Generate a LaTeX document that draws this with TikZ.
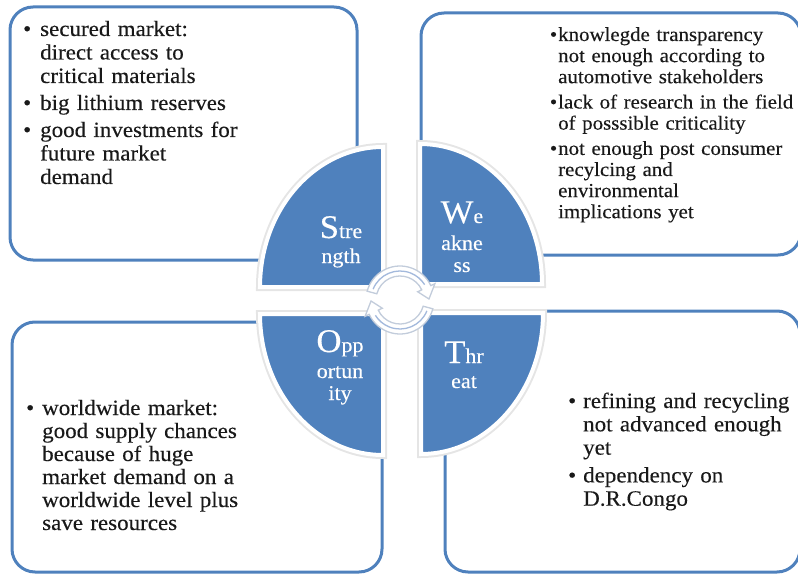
\documentclass[tikz,border=0pt]{standalone}
\usepackage{fontspec}
\setmainfont[FakeStretch=1.05,FakeBold=0.25]{Liberation Serif}
\definecolor{swotblue}{HTML}{4F81BD}
\definecolor{ringedge}{HTML}{C2CCDB}
\definecolor{ringline}{HTML}{A3B9DC}
% bullet hung into the left margin of a list paragraph
\newcommand\bul[1][8pt]{\leavevmode\llap{\textbullet\hskip#1}}
% enlarged initial letter of a quadrant title
\newcommand\swotcap[1]{{\fontsize{33}{33}\selectfont #1}}
\begin{document}
\begin{tikzpicture}[x=1pt,y=-1pt,
  box/.style={draw=swotblue, line width=3pt, rounded corners=23pt},
  halo/.style={draw=black!10, line width=8pt, line join=miter},
  quad/.style={fill=swotblue, draw=white, line width=4pt, line join=miter},
  body/.style={inner sep=0pt, anchor=base west, align=left, text width=#1,
    text=black!90},
  lbl/.style={inner sep=0pt, anchor=base, align=center, text width=90pt,
    text=white, font=\fontsize{21}{22}\selectfont},
  ring/.style={fill=white, draw=ringedge, line width=1.3pt, line join=miter},
  ringmid/.style={draw=ringline, line width=1.3pt}]
\useasboundingbox (0,0) rectangle (798,575);

% text frames
\draw[box] (10,7) rectangle (357,260);
\draw[box] (421,13) rectangle (801,255);
\draw[box] (12,322) rectangle (382,572);
\draw[box] (445,311) rectangle (800,572);

% quadrants of the central disc
\foreach \pass in {halo,quad}{
  \draw[\pass] (383,287) -- (260,287)
    arc[start angle=180, end angle=270, x radius=123, y radius=140] -- cycle;
  \draw[\pass] (420,284) -- (420,144)
    arc[start angle=270, end angle=360, x radius=122, y radius=140] -- cycle;
  \draw[\pass] (383,314) -- (260,314)
    arc[start angle=180, end angle=90, x radius=123, y radius=141] -- cycle;
  \draw[\pass] (421,313) -- (543,313)
    arc[start angle=0, end angle=90, x radius=122, y radius=141] -- cycle;
}

% circular arrows in the centre
\coordinate (hub) at (400,300);
\fill[white] (hub) circle[radius=24];
\foreach \rot in {0,180}{
  \begin{scope}[shift={(hub)}, rotate=\rot]
    \draw[ring] (195:34) arc[start angle=195, end angle=335, radius=34]
      -- (335:38.5) -- (358:29) -- (335:19.5) -- (335:24)
      arc[start angle=335, end angle=195, radius=24] -- cycle;
    \draw[ringmid] (202:29) arc[start angle=202, end angle=328, radius=29];
  \end{scope}
}

% quadrant titles
\node[lbl] (slbl) at (341,238) {\swotcap{S}tre\\[3pt]ngth};
\node[lbl] (wlbl) at (462,223) {\swotcap{W}e\\[5pt]akne\\ss};
\node[lbl] (olbl) at (340,352) {\swotcap{O}pp\\[4pt]ortun\\ity};
\node[lbl] (tlbl) at (464,363) {\swotcap{T}hr\\[3pt]eat};

% frame contents
\node[body=320pt, font=\fontsize{21.9}{23.5}\selectfont] (stxt) at (40,36)
  {\setlength\parskip{3.5pt}%
   \bul[9pt]secured market:\\direct access to\\critical materials\par
   \bul[9pt]big lithium reserves\par
   \bul[9pt]good investments for\\future market\\demand};
\node[body=250pt, font=\fontsize{19.9}{21.1}\selectfont] (wtxt) at (558,41)
  {\setlength\parskip{4.2pt}%
   \bul[1pt]knowlegde transparency\\not enough according to\\automotive stakeholders\par
   \bul[1pt]lack of research in the field\\of posssible criticality\par
   \bul[1pt]not enough post consumer\\recylcing and\\environmental\\implications yet};
\node[body=310pt, font=\fontsize{21.9}{23}\selectfont] (otxt) at (42,415)
  {\bul worldwide market:\\good supply chances\\because of huge\\market demand on a\\worldwide level plus\\save resources};
\node[body=225pt, font=\fontsize{21.9}{23.3}\selectfont] (ttxt) at (583,408)
  {\setlength\parskip{4.5pt}%
   \bul[7pt]refining and recycling\\not advanced enough\\yet\par
   \bul[7pt]dependency on\\D.R.Congo};
\end{tikzpicture}
\end{document}
